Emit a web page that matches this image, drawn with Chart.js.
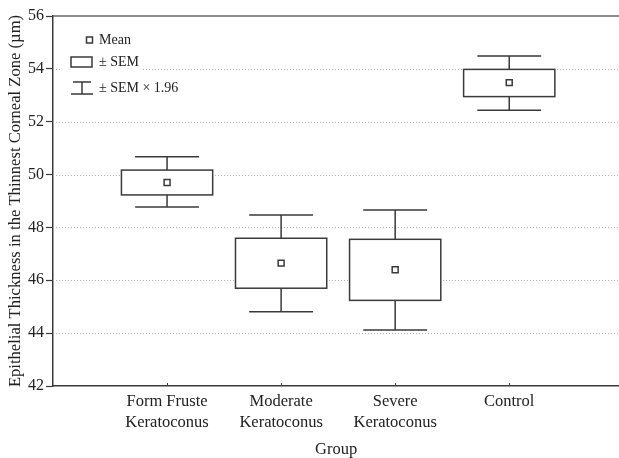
<!DOCTYPE html>
<html><head><meta charset="utf-8">
<script src="https://cdn.jsdelivr.net/npm/chart.js@4"></script>
<style>html,body{margin:0;padding:0;background:#fff;overflow:hidden;width:619px;height:458px}#wrap{width:625px;height:458px;position:relative}</style>
</head><body><div id="wrap"><canvas id="c"></canvas></div>
<script>
const categories = [["Form Fruste","Keratoconus"],["Moderate","Keratoconus"],["Severe","Keratoconus"],["Control"]];
const means    = [49.70, 46.65, 46.40, 53.48];
const semLow   = [49.23, 45.70, 45.24, 52.95];
const semHigh  = [50.17, 47.59, 47.55, 53.98];
const ciLow    = [48.77, 44.81, 44.12, 52.43];
const ciHigh   = [50.67, 48.47, 48.66, 54.49];
const yTicks   = [42, 44, 46, 48, 50, 52, 54, 56];
const legendLabels = ["Mean", "± SEM", "± SEM × 1.96"];

const FONT = "'Liberation Serif', 'Times New Roman', serif";
const INK = '#3a3a3a';

const boxPlugin = {
  id: 'boxes',
  beforeDatasetsDraw(chart) {
    const {ctx, chartArea: a, scales: {x, y}} = chart;
    ctx.save();
    ctx.strokeStyle = '#b0b0b0';
    ctx.lineWidth = 1;
    ctx.setLineDash([1, 2]);
    yTicks.slice(1, -1).forEach(v => {
      const py = Math.round(y.getPixelForValue(v)) + 0.5;
      ctx.beginPath(); ctx.moveTo(a.left, py); ctx.lineTo(a.right, py); ctx.stroke();
    });
    ctx.setLineDash([]);
    ctx.strokeStyle = '#666';
    ctx.lineWidth = 1.5;
    ctx.beginPath(); ctx.moveTo(a.left, a.top); ctx.lineTo(a.right, a.top); ctx.stroke();
    ctx.strokeStyle = INK; ctx.lineWidth = 1;
    categories.forEach((c, i) => {
      const px = Math.round(x.getPixelForValue(i + 1)) + 0.5;
      ctx.beginPath(); ctx.moveTo(px, a.bottom); ctx.lineTo(px, a.bottom - 3); ctx.stroke();
    });
    const unit = x.getPixelForValue(1) - x.getPixelForValue(0);
    const boxHalf = unit * 0.40, capHalf = unit * 0.28;
    ctx.strokeStyle = INK; ctx.lineWidth = 1.5;
    categories.forEach((c, i) => {
      const cx = x.getPixelForValue(i + 1);
      const yt = y.getPixelForValue(semHigh[i]), yb = y.getPixelForValue(semLow[i]);
      const wt = y.getPixelForValue(ciHigh[i]), wb = y.getPixelForValue(ciLow[i]);
      ctx.beginPath();
      ctx.moveTo(cx, wt); ctx.lineTo(cx, yt);
      ctx.moveTo(cx, yb); ctx.lineTo(cx, wb);
      ctx.moveTo(cx - capHalf, wt); ctx.lineTo(cx + capHalf, wt);
      ctx.moveTo(cx - capHalf, wb); ctx.lineTo(cx + capHalf, wb);
      ctx.stroke();
      ctx.fillStyle = '#fff';
      ctx.fillRect(cx - boxHalf, yt, 2 * boxHalf, yb - yt);
      ctx.strokeRect(cx - boxHalf, yt, 2 * boxHalf, yb - yt);
    });
    ctx.restore();
  },
  afterDraw(chart) {
    const {ctx} = chart;
    ctx.save();
    ctx.font = '14px ' + FONT;
    ctx.textBaseline = 'middle';
    const rows = [40, 62, 88];
    rows.forEach((ry, i) => {
      const w = ctx.measureText(legendLabels[i]).width;
      ctx.fillStyle = '#fff';
      ctx.fillRect(62, ry - 8, 99 + w + 4 - 62, 16);
    });
    ctx.strokeStyle = INK; ctx.lineWidth = 1.5;
    ctx.fillStyle = '#fff';
    ctx.fillRect(86.5, 37, 6, 6); ctx.strokeRect(86.5, 37, 6, 6);
    ctx.strokeRect(71, 57, 21, 10);
    ctx.beginPath();
    ctx.moveTo(73, 82); ctx.lineTo(91, 82);
    ctx.moveTo(82, 82); ctx.lineTo(82, 94);
    ctx.moveTo(71, 94); ctx.lineTo(93, 94);
    ctx.stroke();
    ctx.fillStyle = '#222';
    legendLabels.forEach((t, i) => ctx.fillText(t, 99, rows[i]));
    ctx.restore();
  }
};

new Chart(document.getElementById('c'), {
  type: 'scatter',
  data: {
    datasets: [{
      data: means.map((m, i) => ({x: i + 1, y: m})),
      pointStyle: 'rect',
      pointRadius: 4.2,
      pointHoverRadius: 4.2,
      backgroundColor: '#fff',
      borderColor: INK,
      borderWidth: 1.5
    }]
  },
  options: {
    responsive: true,
    maintainAspectRatio: false,
    animation: false,
    events: [],
    layout: {padding: {top: 16, right: 0, left: 0, bottom: 0}},
    plugins: {legend: {display: false}, tooltip: {enabled: false}},
    scales: {
      x: {
        type: 'linear', min: 0, max: 4.965,
        afterBuildTicks: s => { s.ticks = categories.map((c, i) => ({value: i + 1})); },
        afterFit: s => { s.height = 72; },
        ticks: {
          callback: v => categories[v - 1],
          font: {family: FONT, size: 16.5, lineHeight: 1.28},
          color: '#222', padding: 5, maxRotation: 0, autoSkip: false
        },
        grid: {display: false, drawTicks: false},
        border: {display: true, color: INK, width: 1.5},
        title: {display: true, text: 'Group', font: {family: FONT, size: 16.5}, color: '#222', padding: {top: 0, bottom: -2}}
      },
      y: {
        min: 42, max: 56,
        afterBuildTicks: s => { s.ticks = yTicks.map(v => ({value: v})); },
        afterFit: s => { s.width = 53; },
        ticks: {font: {family: FONT, size: 16}, color: '#222', padding: 2},
        grid: {drawOnChartArea: false, drawTicks: true, tickLength: 7, tickColor: INK, tickWidth: 1.2},
        border: {display: true, color: INK, width: 1.5},
        title: {display: true, text: 'Epithelial Thickness in the Thinnest Corneal Zone (µm)',
                font: {family: FONT, size: 16.6}, color: '#222', padding: {top: 6, bottom: 0}}
      }
    }
  },
  plugins: [boxPlugin]
});
</script>
</body></html>
